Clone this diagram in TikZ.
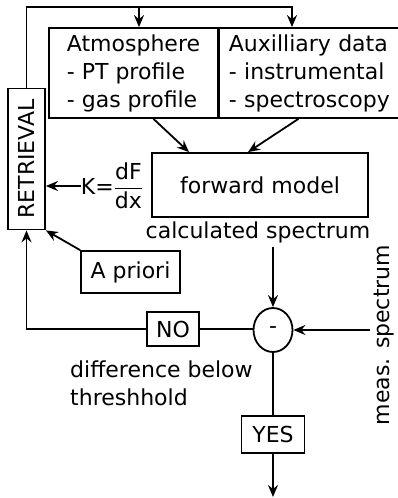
\documentclass[tikz,border=0pt]{standalone}
\usepackage{amsmath}
\usepackage{fontspec}
\setmainfont{DejaVu Sans}
\usetikzlibrary{arrows.meta,shapes.geometric,calc}
\tikzset{
  lbl/.style={font=\fontsize{22}{28}\selectfont, inner sep=0pt},
  box/.style={lbl, draw, line width=1.8pt},
  conn/.style={line width=1.8pt},
  arr/.style={conn, -{Stealth[length=12pt,width=10pt,inset=4pt]}},
}
\begin{document}
\begin{tikzpicture}[x=1pt,y=-1pt]
\useasboundingbox (0,0) rectangle (398,498);
\clip (0,0) rectangle (398,498);
% top boxes
\node[box, minimum width=169pt, minimum height=90pt, align=left] (atm) at (133.5,73)
  {Atmosphere\\- PT profile\\- gas profile};
\node[box, anchor=west, minimum height=90pt, text width=175pt, inner xsep=10pt, align=left] (aux) at (218,73)
  {Auxilliary data\\- instrumental\\- spectroscopy};
% retrieval
\node[box, rotate=90, minimum width=141pt, minimum height=37pt] (ret) at (26.5,159) {RETRIEVAL};
% forward model
\node[box, minimum width=216pt, minimum height=64pt] (fm) at (260,185) {forward model};
\node[lbl] (calc) at (258,232) {calculated spectrum};
\node[lbl] (K) at (112,186) {K=$\dfrac{\text{dF}}{\text{dx}}$};
\node[box, minimum width=99pt, minimum height=42pt] (apr) at (130.5,272) {A priori};
% difference
\node[box, ellipse, minimum width=39pt, minimum height=44pt] (diff) at (273,330) {-};
\node[box, minimum width=52pt, minimum height=34pt] (no) at (173,329) {NO};
\node[box, minimum width=63pt, minimum height=37pt] (yes) at (273,434.5) {YES};
\node[lbl, rotate=90] (meas) at (384,335) {meas. spectrum};
\node[lbl, anchor=north west, align=left] (thr) at (70,361) {difference below\\threshhold};
% coordinates
\coordinate (c1) at (292,7);
\coordinate (c2) at (139,7);
\coordinate (m) at (370,330);
\coordinate (nl) at (26.5,329);
\coordinate (out) at (273,497);
% connectors
\draw[arr] (ret.east) |- (c1) -- (c1 |- aux.north);
\draw[arr] (c2) -- (c2 |- atm.north);
\draw[arr] ([xshift=20pt]atm.south) -- ([xshift=-71pt]fm.north);
\draw[arr] ([xshift=-18pt]aux.south) -- ([xshift=-12pt]fm.north);
\draw[arr] (K.west) -- (K.west -| ret.south);
\draw[arr] (apr.north west) -- (ret.south west);
\draw[arr] (diff.north |- calc.south) ++(0,4) -- (diff.north);
\draw[arr] (m) -- (diff.east);
\draw[conn] (no.east) -- (no.east -| diff.west);
\draw[arr] (no.west) -- (nl) -- (ret.west);
\draw[conn] (diff.south) -- (yes.north);
\draw[arr] (yes.south) -- (out);
\end{tikzpicture}
\end{document}
